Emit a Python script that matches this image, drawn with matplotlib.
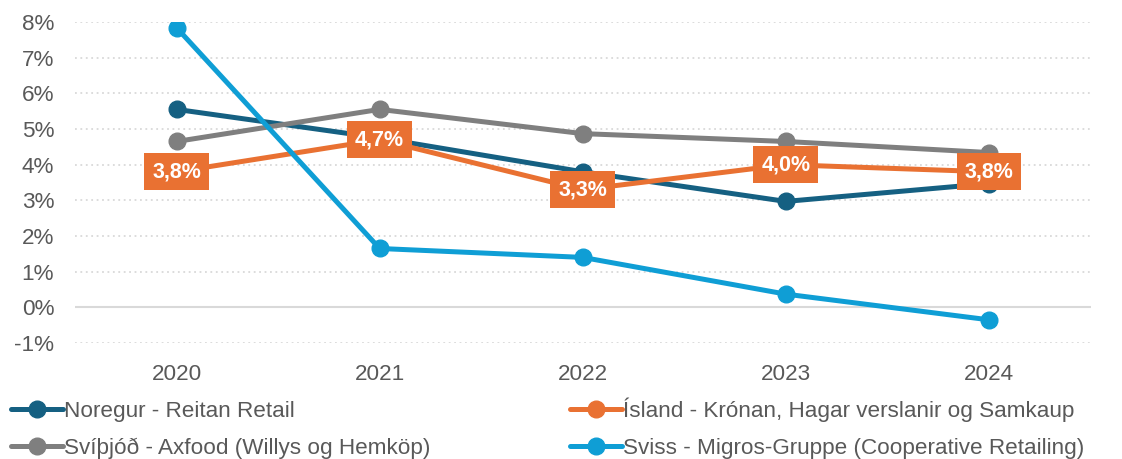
import numpy as np
import matplotlib.pyplot as plt
from matplotlib.ticker import FuncFormatter

plt.rcParams['font.family'] = ['Liberation Sans', 'DejaVu Sans']

# data, %
years = ['2020', '2021', '2022', '2023', '2024']
noregur = [5.55, 4.75, 3.8, 2.97, 3.47]
island = [3.8, 4.7, 3.3, 4.0, 3.8]
svithjod = [4.65, 5.55, 4.87, 4.65, 4.34]
sviss = [7.84, 1.65, 1.4, 0.37, -0.35]
island_labels = ['3,8%', '4,7%', '3,3%', '4,0%', '3,8%']

names = ['Noregur - Reitan Retail',
         'Ísland - Krónan, Hagar verslanir og Samkaup',
         'Svíþjóð - Axfood (Willys og Hemköp)',
         'Sviss - Migros-Gruppe (Cooperative Retailing)']
colors = ['#156082', '#E97132', '#7F7F7F', '#0F9ED5']
txt = '#595959'
fs = 16.2

fig = plt.figure(figsize=(11.22, 4.59), dpi=100)
ax = fig.add_axes([75/1122, 1-343/459, (1090.5-75)/1122, (343-22)/459])

x = np.arange(len(years))
lines = []
for vals, c, n in zip([noregur, island, svithjod, sviss], colors, names):
    l, = ax.plot(x, vals, color=c, lw=3.6, marker='o', ms=12, label=n,
                 solid_capstyle='round', zorder=3)
    lines.append(l)

for xi, v, s in zip(x, island, island_labels):
    ax.text(xi, v, s, ha='center', va='center', color='white', fontsize=15.5,
            fontweight='bold', zorder=5,
            bbox=dict(boxstyle='square,pad=0.37', fc='#E97132', ec='none'))

ax.set_xlim(-0.5, len(years) - 0.5)
ax.set_ylim(-1, 8)
ax.set_yticks(np.arange(-1, 9, 1))
ax.yaxis.set_major_formatter(FuncFormatter(lambda v, p: '%d%%' % v))
ax.set_xticks(x)
ax.set_xticklabels(years)
ax.tick_params(length=0, labelsize=fs, labelcolor=txt)
ax.tick_params(axis='y', pad=15)
ax.tick_params(axis='x', pad=15)
for s in ax.spines.values():
    s.set_visible(False)
for yv in np.arange(-1, 9, 1):
    if yv == 0:
        ax.axhline(0, color='#D9D9D9', lw=1.5, zorder=1)
    else:
        ax.axhline(yv, color='#D9D9D9', lw=1.3, ls=(0, (1, 2)), zorder=1)

leg = fig.legend([lines[0], lines[2], lines[1], lines[3]],
                 [names[0], names[2], names[1], names[3]],
                 ncol=2, loc='lower left', bbox_to_anchor=(0.0, -0.025),
                 frameon=False, fontsize=fs, handlelength=2.3,
                 handletextpad=0.06, columnspacing=6.2, labelspacing=0.72,
                 borderaxespad=0.2, borderpad=0.3)
for t in leg.get_texts():
    t.set_color(txt)

fig.savefig('out.png', dpi=100)
